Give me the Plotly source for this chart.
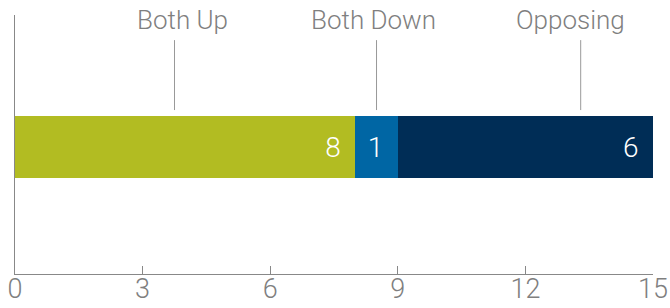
import plotly.graph_objects as go

categories = ["Both Up", "Both Down", "Opposing"]
values = [8, 1, 6]
colors = ["#B2BC22", "#0066A4", "#002D56"]
tick_values = [0, 3, 6, 9, 12, 15]

# layout constants (label / leader positions in x units)
label_x = [3.93, 8.44, 13.07]
leader_x = [3.75, 8.5, 13.3]

FONT = "Roboto"
GRAY = "#7f7f7f"

fig = go.Figure()
for cat, val, col in zip(categories, values, colors):
    fig.add_trace(go.Bar(
        x=[val], y=[0], orientation="h", name=cat,
        marker=dict(color=col, line=dict(width=0)),
        width=0.239,
        text=[f"{val}\u2009\u2009"], textposition="inside",
        insidetextanchor="end",
        textfont=dict(color="white", size=28, family=FONT, weight=300),
        hoverinfo="skip",
    ))

for name, lx, ldx in zip(categories, label_x, leader_x):
    fig.add_annotation(x=lx, y=0.981, xref="x", yref="paper", text=name,
                       showarrow=False, yanchor="middle", xanchor="center",
                       font=dict(size=26, color=GRAY, family=FONT, weight=300))
    fig.add_shape(type="line", xref="x", yref="paper", x0=ldx, x1=ldx,
                  y0=0.633, y1=0.903, line=dict(color="#999999", width=1))

fig.update_layout(
    barmode="stack",
    width=670, height=308,
    margin=dict(l=15, r=17, t=15, b=34, autoexpand=False),
    paper_bgcolor="white", plot_bgcolor="white",
    showlegend=False,
    bargap=0,
    xaxis=dict(range=[0, 15], tickvals=tick_values, ticks="inside", ticklen=8,
               tickcolor="#888888", showline=True, linecolor="#888888", linewidth=1,
               showgrid=False, zeroline=False, automargin=False,
               ticklabeloverflow="allow", ticklabelstandoff=-9,
               tickfont=dict(size=27, color=GRAY, family=FONT, weight=300)),
    yaxis=dict(range=[-0.4903, 0.5097], showticklabels=False, ticks="",
               showline=True, linecolor="#888888", linewidth=1,
               showgrid=False, zeroline=False, automargin=False),
)

fig.write_html("out.html",
               config={"displayModeBar": False, "staticPlot": True},
               post_script="document.body.style.margin='0';document.body.style.overflow='hidden';")
